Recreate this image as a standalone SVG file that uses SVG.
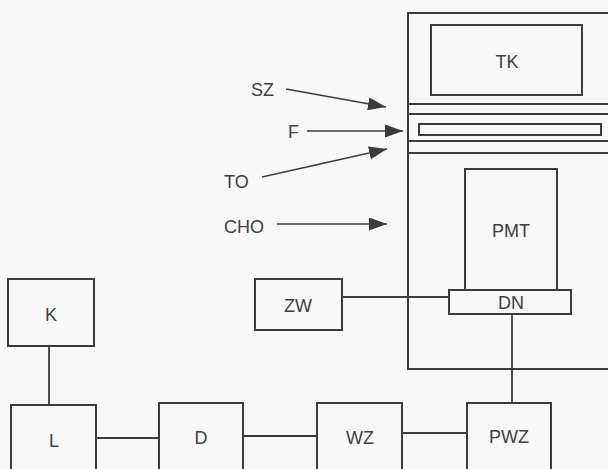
<svg xmlns="http://www.w3.org/2000/svg" width="608" height="469" viewBox="0 0 608 469">
<defs>
<marker id="ah" markerWidth="18" markerHeight="13" refX="18" refY="6.5" orient="auto" markerUnits="userSpaceOnUse">
<path d="M0,0 L18,6.5 L0,13 Z" fill="#3a3a3a"/>
</marker>
</defs>
<style>
.b{fill:none;stroke:#3c3c3c;stroke-width:2}
.c{fill:none;stroke:#3c3c3c;stroke-width:1.8}
.a{fill:none;stroke:#3c3c3c;stroke-width:1.5;marker-end:url(#ah)}
.t{font-family:"Liberation Sans",Arial,sans-serif;font-size:18px;fill:#404040;text-anchor:middle}
.l{font-family:"Liberation Sans",Arial,sans-serif;font-size:18px;fill:#404040}
</style>
<rect width="608" height="469" fill="#f8f8f8"/>
<g id="device">
<rect class="b" x="408" y="13" width="220" height="356"/>
<line class="b" x1="408" y1="104" x2="620" y2="104"/>
<line class="b" x1="408" y1="114" x2="620" y2="114"/>
<rect class="b" x="419" y="124" width="182" height="11"/>
<line class="b" x1="408" y1="141" x2="620" y2="141"/>
<line class="b" x1="408" y1="153" x2="620" y2="153"/>
</g>
<g id="TK"><rect class="b" x="431" y="25" width="151" height="70"/><text class="t" x="507" y="68">TK</text></g>
<g id="PMT"><rect class="b" x="465" y="169" width="92" height="121"/><text class="t" x="511" y="237">PMT</text></g>
<g id="DN"><rect class="b" x="449" y="290" width="122" height="24"/><text class="t" x="511" y="309">DN</text></g>
<g id="ZW"><rect class="b" x="255" y="279" width="87" height="51"/><text class="t" x="298" y="312">ZW</text></g>
<g id="K"><rect class="b" x="8" y="279" width="86" height="67"/><text class="t" x="51" y="321">K</text></g>
<g id="L"><rect class="b" x="11" y="405" width="85" height="80"/><text class="t" x="54" y="447">L</text></g>
<g id="D"><rect class="b" x="159" y="403" width="84" height="80"/><text class="t" x="201" y="444">D</text></g>
<g id="WZ"><rect class="b" x="317" y="403" width="85" height="80"/><text class="t" x="360" y="444">WZ</text></g>
<g id="PWZ"><rect class="b" x="467" y="403" width="84" height="80"/><text class="t" x="509" y="443">PWZ</text></g>
<g id="connectors">
<line class="c" x1="49" y1="346" x2="49" y2="405"/>
<line class="c" x1="96" y1="438" x2="159" y2="438"/>
<line class="c" x1="243" y1="436" x2="317" y2="436"/>
<line class="c" x1="402" y1="433" x2="467" y2="433"/>
<line class="c" x1="342" y1="297" x2="449" y2="297"/>
<line class="c" x1="512" y1="314" x2="512" y2="403"/>
<line class="a" x1="286" y1="89" x2="386" y2="107"/>
<line class="a" x1="307" y1="131" x2="403" y2="131"/>
<line class="a" x1="262" y1="177" x2="387" y2="149"/>
<line class="a" x1="277" y1="224" x2="387" y2="224"/>
<text class="l" x="251" y="96">SZ</text>
<text class="l" x="288" y="138">F</text>
<text class="l" x="224" y="188">TO</text>
<text class="l" x="224" y="233">CHO</text>
</g>
</svg>
